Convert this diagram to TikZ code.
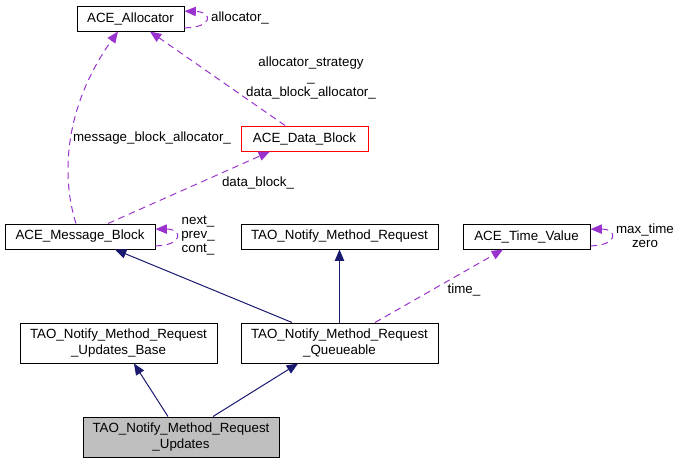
\documentclass[tikz,border=0pt]{standalone}
\usepackage{fontspec}
\setmainfont{Liberation Sans}
\usetikzlibrary{arrows.meta}
\definecolor{navy}{RGB}{25,25,112}
\definecolor{orchid}{RGB}{154,50,205}
\definecolor{grayfill}{RGB}{191,191,191}
\begin{document}
\begin{tikzpicture}[x=0.75pt,y=-0.75pt,
  font=\fontsize{10pt}{12pt}\selectfont,
  box/.style={draw=black,line width=0.75pt,inner sep=0pt,align=center,minimum height=18.75pt},
  tall/.style={box,minimum height=30pt},
  inherit/.style={draw=navy,line width=0.75pt,-{Triangle[length=8.5pt,width=7pt]},fill=none},
  use/.style={draw=orchid,line width=0.75pt,dash pattern=on 5pt off 3.5pt,-{Triangle[length=8.5pt,width=7pt]}},
  lbl/.style={inner sep=0pt,align=center,font=\fontsize{10pt}{11pt}\selectfont}]
\useasboundingbox (0,0) rectangle (680,464);
\node[box,minimum width=80.25pt] (alloc) at (130.5,18.5) {ACE\_Allocator};
\node[box,draw=red,minimum width=95.25pt] (datablock) at (304.5,138.5) {ACE\_Data\_Block};
\node[box,minimum width=112.5pt] (msgblock) at (80,236.5) {ACE\_Message\_Block};
\node[box,minimum width=147.75pt] (req) at (339.5,236.5) {TAO\_Notify\_Method\_Request};
\node[box,minimum width=95.25pt] (timeval) at (526.5,236.5) {ACE\_Time\_Value};
\node[tall,minimum width=147.75pt] (base) at (118.5,343) {TAO\_Notify\_Method\_Request\\\_Updates\_Base};
\node[tall,minimum width=147.75pt] (queue) at (339.5,343) {TAO\_Notify\_Method\_Request\\\_Queueable};
\node[tall,fill=grayfill,minimum width=147pt] (updates) at (181,437) {TAO\_Notify\_Method\_Request\\\_Updates};
% inheritance
\draw[inherit] ([xshift=-9.75pt]updates.north) -- ([xshift=11.6pt]base.south);
\draw[inherit] ([xshift=24pt]updates.north) -- ([xshift=-31.1pt]queue.south);
\draw[inherit] ([xshift=-35.6pt]queue.north) -- ([xshift=26.25pt]msgblock.south);
\draw[inherit] (queue.north) -- (req.south);
% usage
\draw[use] ([xshift=26.6pt]queue.north) -- ([xshift=-17.6pt]timeval.south);
\node[lbl] (ltime) at (464,290) {time\_};
\draw[use] ([xshift=21pt]msgblock.north) -- ([xshift=-25.9pt]datablock.south);
\node[lbl] (ldata) at (258,183) {data\_block\_};
\draw[use] ([xshift=-3pt]msgblock.north) .. controls (62,180) and (62,110) .. ([xshift=-9.4pt]alloc.south);
\node[lbl] (lmsg) at (152,138) {message\_block\_allocator\_};
\draw[use] ([xshift=-14.6pt]datablock.north) -- ([xshift=14.6pt]alloc.south);
\node[lbl,font=\fontsize{10pt}{11.25pt}\selectfont] (lstrat) at (311,78) {allocator\_strategy\\\_\\data\_block\_allocator\_};
% self loops
\draw[use] ([yshift=-7pt]alloc.east) .. controls (212,28) and (214,12) .. ([yshift=5.5pt]alloc.east);
\node[lbl] (lalloc) at (240,18) {allocator\_};
\draw[use] ([yshift=-7pt]msgblock.east) .. controls (182,246) and (184,229) .. ([yshift=5.5pt]msgblock.east);
\node[lbl,font=\fontsize{10pt}{10.5pt}\selectfont] (lnext) at (198,236) {next\_\\prev\_\\cont\_};
\draw[use] ([yshift=-7pt]timeval.east) .. controls (617,246) and (619,229) .. ([yshift=5.5pt]timeval.east);
\node[lbl,font=\fontsize{10pt}{10.5pt}\selectfont] (lmax) at (645,236) {max\_time\\zero};
\end{tikzpicture}
\end{document}
